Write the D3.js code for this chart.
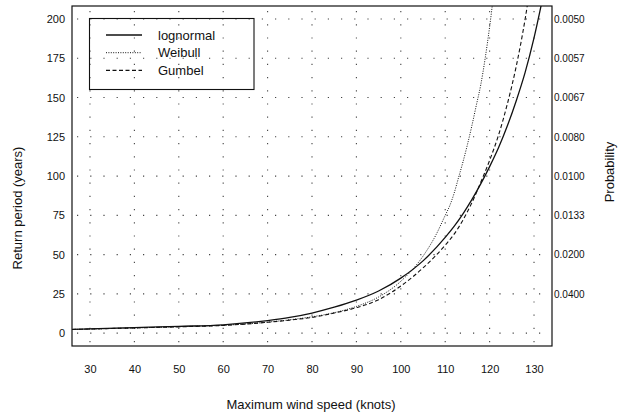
<!DOCTYPE html>
<html><head><meta charset="utf-8">
<script src="https://cdn.jsdelivr.net/npm/d3@7"></script>
<style>
body{margin:0;background:#fff;}
text{font-family:"Liberation Sans",Arial,sans-serif;fill:#111;}
</style></head>
<body><svg id="c" width="623" height="417"></svg>
<script>
// ---- data ----
const xTicks = [30, 40, 50, 60, 70, 80, 90, 100, 110, 120, 130];
const yTicks = [0, 25, 50, 75, 100, 125, 150, 175, 200];
const probLabels = ["0.0400", "0.0200", "0.0133", "0.0100", "0.0080", "0.0067", "0.0057", "0.0050"];
const probAt = [25, 50, 75, 100, 125, 150, 175, 200];
const seriesNames = ["lognormal", "Weibull", "Gumbel"];

const lognormalX = [26, 30, 40, 50, 60, 70, 75, 80, 85, 90, 95, 100, 105, 110, 112, 114, 116, 118, 120, 122, 124, 126, 128, 130, 132];
const lognormalY = [2.4, 2.7, 3.5, 4.3, 5.3, 8.0, 10.0, 12.8, 16.5, 21.0, 26.8, 35.0, 46.0, 61, 68, 76, 85, 95, 106, 118, 132, 148, 166, 188, 214];

const weibullX = [26, 30, 40, 50, 60, 70, 75, 80, 85, 90, 95, 100, 105, 108, 110, 111, 112, 113, 114, 115, 116, 117, 118, 119, 120, 121];
const weibullY = [2.3, 2.6, 3.3, 4.1, 5.0, 7.0, 8.5, 10.4, 13.0, 17.0, 23.0, 33.0, 49.0, 63, 75, 81, 89, 99, 109, 120, 132, 145, 158, 175, 195, 218];

const gumbelX = [26, 30, 40, 50, 60, 70, 75, 80, 85, 90, 95, 100, 105, 110, 112, 114, 116, 118, 120, 122, 124, 126, 128, 129];
const gumbelY = [2.3, 2.6, 3.3, 4.0, 4.9, 6.9, 8.3, 10.0, 12.8, 16.2, 21.3, 30.0, 41.5, 56.0, 63, 72, 83, 96, 110, 126, 146, 170, 200, 218];

// ---- layout ----
const svg = d3.select("#c");
const L = 72, R = 552, T = 6, B = 346;
const x = d3.scaleLinear().domain([25.95, 134.05]).range([L, R]);
const y = d3.scaleLinear().domain([-8.2, 208.3]).range([B, T]);

svg.append("defs").append("clipPath").attr("id", "clip")
  .append("rect").attr("x", L).attr("y", T).attr("width", R - L).attr("height", B - T);

// dotted grid
const grid = svg.append("g").attr("stroke", "#444").attr("stroke-width", 1.1);
grid.selectAll("line.h").data(yTicks).join("line")
  .attr("x1", L + 5).attr("x2", R).attr("y1", d => y(d)).attr("y2", d => y(d))
  .attr("stroke-dasharray", "1.2,12");
grid.selectAll("line.v").data(xTicks).join("line")
  .attr("x1", d => x(d)).attr("x2", d => x(d)).attr("y1", T + 5).attr("y2", B)
  .attr("stroke-dasharray", "1.2,12");

// axes
const gL = svg.append("g").attr("transform", `translate(${L},0)`)
  .call(d3.axisLeft(y).tickValues(yTicks).tickSize(0).tickPadding(7));
gL.select(".domain").remove();
gL.selectAll("text").attr("font-size", 11).attr("font-family", "Liberation Sans, Arial, sans-serif").attr("fill", "#111");

const gB = svg.append("g").attr("transform", `translate(0,${B})`)
  .call(d3.axisBottom(x).tickValues(xTicks).tickSize(0).tickPadding(19));
gB.select(".domain").remove();
gB.selectAll("text").attr("font-size", 11).attr("font-family", "Liberation Sans, Arial, sans-serif").attr("fill", "#111");

const gR = svg.append("g").attr("transform", `translate(${R},0)`)
  .call(d3.axisRight(y).tickValues(probAt).tickFormat((d, i) => probLabels[i]).tickSize(0).tickPadding(2));
gR.select(".domain").remove();
gR.selectAll("text").attr("font-size", 10).attr("font-family", "Liberation Sans, Arial, sans-serif").attr("fill", "#111");

// frame
svg.append("rect").attr("x", L).attr("y", T).attr("width", R - L).attr("height", B - T)
  .attr("fill", "none").attr("stroke", "#111").attr("stroke-width", 1.2);

// curves
const line = d3.line().x(d => x(d[0])).y(d => y(d[1])).curve(d3.curveMonotoneX);
const styles = [
  {dash: null, w: 1.3},
  {dash: "1,1.4", w: 1},
  {dash: "4,2.5", w: 1.1}
];
const allSeries = [
  lognormalX.map((v, i) => [v, lognormalY[i]]),
  weibullX.map((v, i) => [v, weibullY[i]]),
  gumbelX.map((v, i) => [v, gumbelY[i]])
];
const cg = svg.append("g").attr("clip-path", "url(#clip)");
allSeries.forEach((s, i) => {
  cg.append("path").attr("d", line(s)).attr("fill", "none").attr("stroke", "#111")
    .attr("stroke-width", styles[i].w).attr("stroke-dasharray", styles[i].dash);
});

// legend
const lg = svg.append("g");
lg.append("rect").attr("x", 89.5).attr("y", 18.5).attr("width", 164.5).attr("height", 71)
  .attr("fill", "none").attr("stroke", "#111").attr("stroke-width", 1.1);
seriesNames.forEach((n, i) => {
  const yy = 35 + i * 17.7;
  lg.append("line").attr("x1", 106).attr("x2", 142).attr("y1", yy).attr("y2", yy)
    .attr("stroke", "#111").attr("stroke-width", styles[i].w).attr("stroke-dasharray", styles[i].dash);
  lg.append("text").attr("x", 158).attr("y", yy + 4.5).attr("font-size", 13).text(n);
});

// titles
svg.append("text").attr("x", 311).attr("y", 409).attr("text-anchor", "middle")
  .attr("font-size", 13).text("Maximum wind speed (knots)");
svg.append("text").attr("transform", "translate(22,208) rotate(-90)").attr("text-anchor", "middle")
  .attr("font-size", 13).text("Return period (years)");
svg.append("text").attr("transform", "translate(614,172) rotate(-90)").attr("text-anchor", "middle")
  .attr("font-size", 13).text("Probability");
</script></body></html>
